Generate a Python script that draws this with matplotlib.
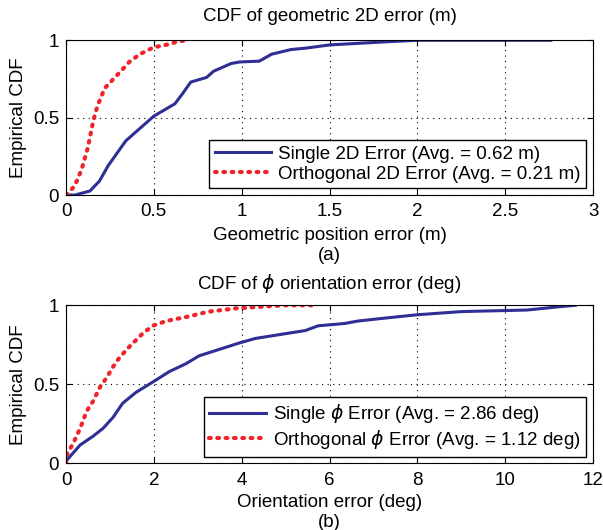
"""Empirical CDFs of 2D position error and phi orientation error."""

import matplotlib
matplotlib.use("Agg")
import matplotlib.pyplot as plt

plt.rcParams["font.family"] = ["Liberation Sans", "DejaVu Sans"]
plt.rcParams["mathtext.fontset"] = "dejavusans"

# ---------- data ----------
# top panel: geometric 2D error (m)
single_2d_err = [0.0, 0.05, 0.136, 0.19, 0.24, 0.29, 0.34, 0.42, 0.50, 0.62, 0.66,
                 0.71, 0.80, 0.84, 0.94, 0.99, 1.10, 1.17, 1.28, 1.37, 1.50, 1.82,
                 2.0, 2.76]
single_2d_cdf = [0.0, 0.0, 0.026, 0.09, 0.19, 0.27, 0.35, 0.43, 0.51, 0.59, 0.65,
                 0.73, 0.76, 0.80, 0.85, 0.86, 0.865, 0.91, 0.94, 0.95, 0.97, 0.99,
                 1.0, 1.0]
ortho_2d_err = [0.0, 0.01, 0.05, 0.09, 0.125, 0.155, 0.18, 0.22, 0.27, 0.32, 0.36,
                0.42, 0.50, 0.59, 0.63, 0.68, 0.70]
ortho_2d_cdf = [0.0, 0.01, 0.06, 0.17, 0.31, 0.48, 0.58, 0.69, 0.75, 0.81, 0.86,
                0.91, 0.955, 0.975, 0.99, 1.0, 1.0]

# bottom panel: phi orientation error (deg)
single_phi_err = [0.0, 0.02, 0.32, 0.61, 0.84, 1.07, 1.29, 1.60, 2.01, 2.35, 2.73,
                  3.03, 3.48, 3.93, 4.31, 4.99, 5.45, 5.74, 6.35, 6.64, 7.3, 8.0,
                  9.0, 10.5, 11.2, 11.6]
single_phi_cdf = [0.0, 0.02, 0.115, 0.17, 0.22, 0.29, 0.38, 0.45, 0.52, 0.58, 0.63,
                  0.68, 0.72, 0.76, 0.79, 0.82, 0.84, 0.87, 0.885, 0.90, 0.92, 0.94,
                  0.96, 0.97, 0.99, 1.0]
ortho_phi_err = [0.0, 0.01, 0.17, 0.32, 0.47, 0.61, 0.77, 0.92, 1.07, 1.22, 1.45,
                 1.74, 1.97, 2.28, 2.80, 3.25, 3.86, 4.38, 5.0, 5.65]
ortho_phi_cdf = [0.0, 0.05, 0.13, 0.22, 0.33, 0.39, 0.48, 0.54, 0.61, 0.67, 0.74,
                 0.82, 0.87, 0.90, 0.93, 0.96, 0.98, 0.99, 1.0, 1.0]

blue = "#2e2e94"
red = "#f0222a"
fs = 13.5


def style_axes(ax, xmax, xticks, xticklabels):
    ax.set_xlim(0, xmax)
    ax.set_ylim(0, 1)
    ax.set_xticks(xticks)
    ax.set_xticklabels(xticklabels)
    ax.set_yticks([0, 0.5, 1])
    ax.set_yticklabels(["0", "0.5", "1"])
    ax.tick_params(direction="in", labelsize=fs, length=4, top=True, right=True)
    ax.tick_params(axis="x", pad=6)
    ax.tick_params(axis="y", pad=5)
    ax.grid(True, color="black", linestyle=(0, (1, 4)), linewidth=0.8)
    for sp in ax.spines.values():
        sp.set_linewidth(0.8)
    ax.set_ylabel("Empirical CDF", fontsize=fs, labelpad=4)


def draw_curves(ax, x_single, y_single, x_ortho, y_ortho, lab_single, lab_ortho):
    ax.plot(x_single, y_single, color=blue, linewidth=2.2, label=lab_single)
    ax.plot(x_ortho, y_ortho, color=red, linewidth=3.0,
            linestyle=(0, (0.4, 1.6)), dash_capstyle="round", label=lab_ortho)


fig = plt.figure(figsize=(6.03, 5.30), dpi=100)
ax1 = fig.add_axes([0.1095, 0.632, 0.874, 0.292])
ax2 = fig.add_axes([0.1095, 0.126, 0.874, 0.298])

draw_curves(ax1, single_2d_err, single_2d_cdf, ortho_2d_err, ortho_2d_cdf,
            "Single 2D Error (Avg. = 0.62 m)",
            "Orthogonal 2D Error (Avg. = 0.21 m)")
style_axes(ax1, 3, [0, 0.5, 1, 1.5, 2, 2.5, 3],
           ["0", "0.5", "1", "1.5", "2", "2.5", "3"])
ax1.set_title("CDF of geometric 2D error (m)", fontsize=fs, pad=14)
ax1.set_xlabel("Geometric position error (m)\n(a)", fontsize=fs, labelpad=5,
               linespacing=1.2)

draw_curves(ax2, single_phi_err, single_phi_cdf, ortho_phi_err, ortho_phi_cdf,
            r"Single $\phi$ Error (Avg. = 2.86 deg)",
            r"Orthogonal $\phi$ Error (Avg. = 1.12 deg)")
style_axes(ax2, 12, list(range(0, 13, 2)), [str(v) for v in range(0, 13, 2)])
ax2.set_title(r"CDF of $\phi$ orientation error (deg)", fontsize=fs, pad=12)
ax2.set_xlabel("Orientation error (deg)\n(b)", fontsize=fs, labelpad=4,
               linespacing=1.2)

for ax in (ax1, ax2):
    leg = ax.legend(loc="lower right", fontsize=fs, fancybox=False,
                    edgecolor="black", framealpha=1, handlelength=3.0,
                    borderpad=0.3, labelspacing=0.15, handletextpad=0.4,
                    borderaxespad=0.35)
    leg.get_frame().set_linewidth(1.0)

fig.savefig("out.png", dpi=100)
